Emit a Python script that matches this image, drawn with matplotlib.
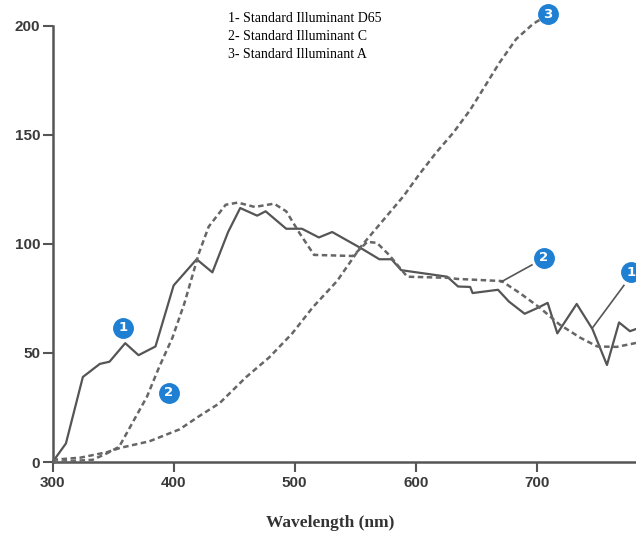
import numpy as np
import matplotlib.pyplot as plt

# Illuminant D65 (solid)
d65_x = [300, 311, 325, 339, 347, 360, 371, 385, 400, 419, 432, 445, 455, 469, 476,
         493, 506, 520, 531, 555, 570, 580, 588, 626, 635, 645, 647, 668, 677, 690,
         700, 709, 717, 733, 746, 758, 768, 777, 782]
d65_y = [0, 8.5, 39, 45, 46, 54.5, 49, 53, 81, 93, 87, 105.5, 116.5, 113, 115,
         107, 107, 103, 105.5, 98, 93, 93, 88, 85, 80.5, 80.3, 77.5, 79, 73.6, 68,
         70.5, 73, 59, 72.5, 61, 44.5, 64, 60, 61]

# Illuminant C (dashed)
c_x = [300, 333, 345, 355, 366, 378, 388, 399, 409, 421, 429, 443, 453, 467, 483,
       493, 504, 516, 548, 560, 568, 578, 593, 626, 634, 671, 686, 702, 719, 736,
       750, 766, 782]
c_y = [0, 1, 4, 7, 18, 30, 43.5, 57, 73, 96, 108, 118, 119, 117, 118.5,
       115, 105, 95, 94.5, 101, 100.5, 95, 85, 84.5, 84, 83, 77.5, 71, 63, 57,
       53, 52.8, 54.6]

# Illuminant A (dashed)
a_x = [300, 323, 345, 356, 380, 405, 421, 438, 460, 479, 498, 515, 535, 555, 590,
       603, 617, 631, 645, 659, 669, 683, 697, 703]
a_y = [1, 2, 4.5, 6.5, 9.5, 15, 21, 27, 39, 48, 59, 71, 83, 99, 122,
       132, 142, 151, 161.5, 174, 183, 194, 201, 203]

legend_lines = ["1- Standard Illuminant D65",
                "2- Standard Illuminant C",
                "3- Standard Illuminant A"]

# numbered callouts: (label, x, y)
callouts = [("1", 358, 61.5), ("2", 396, 31.7), ("3", 709, 205.5),
            ("2", 706, 93.6), ("1", 778, 87)]
# leader lines: (x0, y0, x1, y1)
leaders = [(696, 90.4, 670.5, 82.6), (772, 81, 746, 61.5)]

xticks = [300, 400, 500, 600, 700]
yticks = [0, 50, 100, 150, 200]

fig = plt.figure(figsize=(6.36, 5.41), dpi=100)
ax = fig.add_axes([52.6 / 636, 1 - 462 / 541, 1 - 52.6 / 636, 457.8 / 541])

gray = '#555555'
ax.plot(d65_x, d65_y, color=gray, lw=1.6, clip_on=False, zorder=3)
ax.plot(c_x, c_y, color='#666666', lw=1.8, linestyle=(0, (2.2, 1.4)), clip_on=False, zorder=3)
ax.plot(a_x, a_y, color='#666666', lw=1.8, linestyle=(0, (2.2, 1.4)), clip_on=False, zorder=3)

for x0, y0, x1, y1 in leaders:
    ax.plot([x0, x1], [y0, y1], color=gray, lw=1.2, zorder=3)

for lab, x, y in callouts:
    ax.plot(x, y, 'o', ms=14, color='#1f7fd2', mec='#1f7fd2', clip_on=False, zorder=5)
    ax.text(x, y, lab, color='white', fontsize=9.5, fontweight='bold',
            ha='center', va='center', zorder=6, clip_on=False)

ax.set_xlim(300, 782)
ax.set_ylim(0, 210)
ax.spines['top'].set_visible(False)
ax.spines['right'].set_visible(False)
ax.spines['left'].set_bounds(0, 200)
for s in ['left', 'bottom']:
    ax.spines[s].set_color(gray)
    ax.spines[s].set_linewidth(1.8)

ax.set_xticks(xticks)
ax.set_yticks(yticks)
ax.tick_params(axis='both', direction='out', length=7, width=1.5, color=gray,
               labelsize=11, labelcolor='#3a3a3a')
ax.tick_params(axis='y', pad=2)
ax.tick_params(axis='x', pad=3)
for t in ax.get_xticklabels() + ax.get_yticklabels():
    t.set_fontfamily('Liberation Sans')
    t.set_fontweight('bold')

for i, s in enumerate(legend_lines):
    fig.text(228 / 636, 1 - (18 + 18.5 * i) / 541, s, fontsize=10,
             family='Liberation Serif', color='black', va='center', ha='left')

fig.text(330 / 636, 1 - 523 / 541, "Wavelength (nm)", fontsize=12.5,
         family='Liberation Serif', fontweight='bold', color='#333333',
         ha='center', va='center')

fig.savefig("out.png", dpi=100)
